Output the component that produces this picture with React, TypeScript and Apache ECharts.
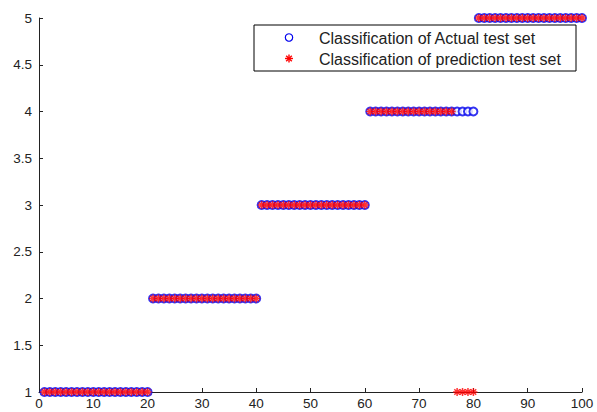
import React, { useEffect, useRef } from "react";
import * as echarts from "echarts";

const actualClass: number[] = [
  1, 1, 1, 1, 1, 1, 1, 1, 1, 1, 1, 1, 1, 1, 1, 1, 1, 1, 1, 1,
  2, 2, 2, 2, 2, 2, 2, 2, 2, 2, 2, 2, 2, 2, 2, 2, 2, 2, 2, 2,
  3, 3, 3, 3, 3, 3, 3, 3, 3, 3, 3, 3, 3, 3, 3, 3, 3, 3, 3, 3,
  4, 4, 4, 4, 4, 4, 4, 4, 4, 4, 4, 4, 4, 4, 4, 4, 4, 4, 4, 4,
  5, 5, 5, 5, 5, 5, 5, 5, 5, 5, 5, 5, 5, 5, 5, 5, 5, 5, 5, 5,
];

const predictedClass: number[] = [
  1, 1, 1, 1, 1, 1, 1, 1, 1, 1, 1, 1, 1, 1, 1, 1, 1, 1, 1, 1,
  2, 2, 2, 2, 2, 2, 2, 2, 2, 2, 2, 2, 2, 2, 2, 2, 2, 2, 2, 2,
  3, 3, 3, 3, 3, 3, 3, 3, 3, 3, 3, 3, 3, 3, 3, 3, 3, 3, 3, 3,
  4, 4, 4, 4, 4, 4, 4, 4, 4, 4, 4, 4, 4, 4, 4, 4, 1, 1, 1, 1,
  5, 5, 5, 5, 5, 5, 5, 5, 5, 5, 5, 5, 5, 5, 5, 5, 5, 5, 5, 5,
];

const legendNames = [
  "Classification of Actual test set",
  "Classification of prediction test set",
];

const FONT = "'Liberation Sans', Arial, Helvetica, sans-serif";
const BLUE = "#0000ee";
const RED = "#ff0000";
const STAR =
  "path://M0,-10L0,10M-10,0L10,0M-7,-7L7,7M-7,7L7,-7";

export default function App() {
  const ref = useRef<HTMLDivElement>(null);
  useEffect(() => {
    if (!ref.current) return;
    const chart = echarts.init(ref.current, undefined, { renderer: "svg" });
    const toPoints = (arr: number[]) => arr.map((v, i) => [i + 1, v]);
    const legX = 254;
    const legY = 25;
    chart.setOption({
      animation: false,
      backgroundColor: "#ffffff",
      grid: { left: 39, right: 15, top: 18, bottom: 20, containLabel: false },
      xAxis: {
        type: "value",
        min: 0,
        max: 100,
        interval: 10,
        axisLine: { show: true, lineStyle: { color: "#222", width: 1 } },
        axisTick: { show: true, inside: true, length: 4, lineStyle: { color: "#222" } },
        axisLabel: { color: "#222", fontFamily: FONT, fontSize: 13.5, margin: 4 },
        splitLine: { show: false },
      },
      yAxis: {
        type: "value",
        min: 1,
        max: 5,
        interval: 0.5,
        axisLine: { show: true, lineStyle: { color: "#222", width: 1 } },
        axisTick: { show: true, inside: true, length: 4, lineStyle: { color: "#222" } },
        axisLabel: { color: "#222", fontFamily: FONT, fontSize: 13.5, margin: 7 },
        splitLine: { show: false },
      },
      series: [
        {
          name: legendNames[0],
          type: "scatter",
          data: toPoints(actualClass),
          symbol: "emptyCircle",
          symbolSize: 8,
          itemStyle: { color: BLUE, borderColor: BLUE, borderWidth: 1.3 },
          z: 2,
        },
        {
          name: legendNames[1],
          type: "scatter",
          data: toPoints(predictedClass),
          symbol: STAR,
          symbolSize: 8,
          itemStyle: { color: "none", borderColor: RED, borderWidth: 1.5 },
          z: 3,
        },
      ],
      graphic: [
        {
          type: "group",
          z: 100,
          children: [
            {
              type: "rect",
              shape: { x: legX, y: legY, width: 322, height: 46 },
              style: { fill: "#ffffff", stroke: "#000000", lineWidth: 1 },
            },
            {
              type: "circle",
              shape: { cx: 289, cy: 37.5, r: 3.7 },
              style: { fill: "none", stroke: BLUE, lineWidth: 1.2 },
            },
            {
              type: "group",
              x: 289,
              y: 58.5,
              children: [
                { type: "line", shape: { x1: 0, y1: -4, x2: 0, y2: 4 }, style: { stroke: RED, lineWidth: 1.4 } },
                { type: "line", shape: { x1: -4, y1: 0, x2: 4, y2: 0 }, style: { stroke: RED, lineWidth: 1.4 } },
                { type: "line", shape: { x1: -2.8, y1: -2.8, x2: 2.8, y2: 2.8 }, style: { stroke: RED, lineWidth: 1.4 } },
                { type: "line", shape: { x1: -2.8, y1: 2.8, x2: 2.8, y2: -2.8 }, style: { stroke: RED, lineWidth: 1.4 } },
              ],
            },
            {
              type: "text",
              x: 319,
              y: 38.5,
              style: {
                text: legendNames[0],
                fill: "#222",
                font: `16px ${FONT}`,
                verticalAlign: "middle",
              },
            },
            {
              type: "text",
              x: 319,
              y: 59.5,
              style: {
                text: legendNames[1],
                fill: "#222",
                font: `16px ${FONT}`,
                verticalAlign: "middle",
              },
            },
          ],
        },
      ],
    });
    return () => chart.dispose();
  }, []);
  return (
    <div
      ref={ref}
      style={{ position: "fixed", left: 0, top: 0, width: 597, height: 412, background: "#fff" }}
    />
  );
}
